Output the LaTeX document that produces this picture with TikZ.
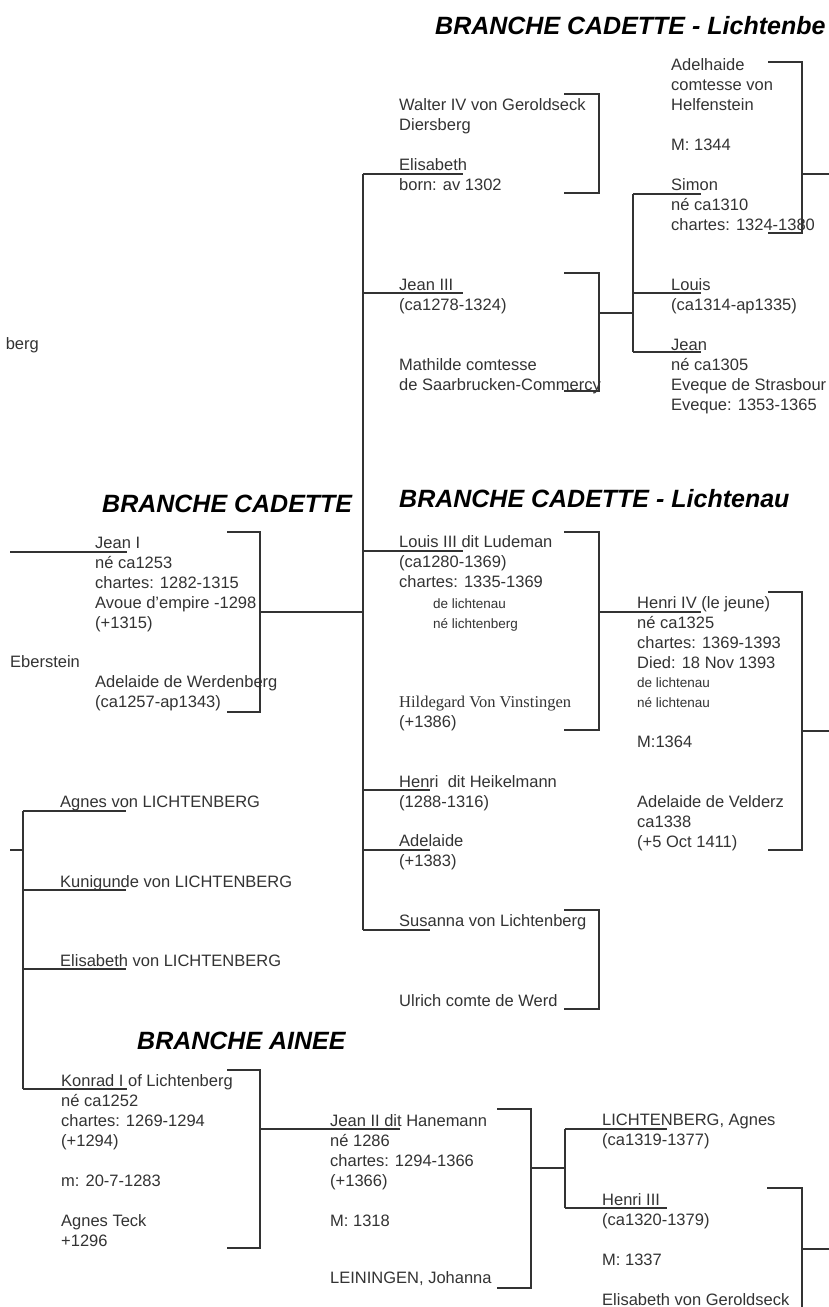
\documentclass[tikz,border=0pt]{standalone}
\usepackage{fontspec}
\setmainfont{Liberation Sans}
\newfontfamily\hildfont{Liberation Serif}
\begin{document}
\begin{tikzpicture}[x=1pt,y=-1pt,
  txt/.style={anchor=north west,inner sep=0pt,align=left,text=black!80,font=\fontsize{16.5}{20}\selectfont},
  sml/.style={txt,font=\fontsize{13.5}{20}\selectfont},
  ttl/.style={anchor=base west,inner sep=0pt,text=black,font=\fontsize{25}{30}\selectfont\bfseries\itshape},
  ln/.style={line width=1.2pt,draw=black!80}]
\clip (0,0) rectangle (829,1307);
\fill[white] (0,0) rectangle (829,1307);

% ---------------- titles
\node[ttl] (t1) at (435,34) {BRANCHE CADETTE - Lichtenbe};
\node[ttl] (t2) at (102,512) {BRANCHE CADETTE};
\node[ttl] (t3) at (399,507) {BRANCHE CADETTE - Lichtenau};
\node[ttl] (t4) at (137,1049) {BRANCHE AINEE};

% ---------------- column A texts
\node[txt] (walter) at (399,96) {\strut Walter IV von Geroldseck\\Diersberg};
\node[txt] (elis) at (399,156) {\strut Elisabeth\\born: av 1302};
\node[txt] (jean3) at (399,276) {\strut Jean III\\(ca1278-1324)};
\node[txt] (mathilde) at (399,356) {\strut Mathilde comtesse\\de Saarbrucken-Commercy};
\node[txt] (louis3) at (399,533) {\strut Louis III dit Ludeman\\(ca1280-1369)\\chartes: 1335-1369};
\node[sml] (louis3s) at (433,594) {\strut de lichtenau\\né lichtenberg};
\node[txt] (hild) at (399,693) {\strut{\hildfont Hildegard Von Vinstingen}\\(+1386)};
\node[txt] (henrih) at (399,773) {\strut Henri\ \ dit Heikelmann\\(1288-1316)};
\node[txt] (adel) at (399,832) {\strut Adelaide\\(+1383)};
\node[txt] (susanna) at (399,912) {\strut Susanna von Lichtenberg};
\node[txt] (ulrich) at (399,992) {\strut Ulrich comte de Werd};

% ---------------- column B texts
\node[txt] (adelh) at (671,56) {\strut Adelhaide\\comtesse von\\Helfenstein\\[20pt]M: 1344};
\node[txt] (simon) at (671,176) {\strut Simon\\né ca1310\\chartes: 1324-1380};
\node[txt] (louis) at (671,276) {\strut Louis\\(ca1314-ap1335)};
\node[txt] (jean) at (671,336) {\strut Jean\\né ca1305\\Eveque de Strasbour\\Eveque: 1353-1365};
\node[txt] (henri4) at (637,594) {\strut Henri IV (le jeune)\\né ca1325\\chartes: 1369-1393\\Died: 18 Nov 1393};
\node[sml] (henri4s) at (637,673) {\strut de lichtenau\\né lichtenau};
\node[txt] (henri4m) at (637,733) {\strut M:1364\\[40pt]Adelaide de Velderz\\ca1338\\(+5 Oct 1411)};

% ---------------- left column texts
\node[txt,anchor=base east] (berg) at (39,349) {berg};
\node[txt] (jean1) at (95,534) {\strut Jean I\\né ca1253\\chartes: 1282-1315\\Avoue d'empire -1298\\(+1315)};
\node[txt] (eber) at (10,653) {\strut Eberstein};
\node[txt] (adelw) at (95,673) {\strut Adelaide de Werdenberg\\(ca1257-ap1343)};
\node[txt] (agnesl) at (60,793) {\strut Agnes von LICHTENBERG};
\node[txt] (kunig) at (60,873) {\strut Kunigunde von LICHTENBERG};
\node[txt] (elisl) at (60,952) {\strut Elisabeth von LICHTENBERG};
\node[txt] (konrad) at (61,1072) {\strut Konrad I of Lichtenberg\\né ca1252\\chartes: 1269-1294\\(+1294)\\[20pt]m: 20-7-1283\\[20pt]Agnes Teck\\+1296};
\node[txt] (jean2) at (330,1112) {\strut Jean II dit Hanemann\\né 1286\\chartes: 1294-1366\\(+1366)\\[20pt]M: 1318};
\node[txt] (lein) at (330,1269) {\strut LEININGEN, Johanna};
\node[txt] (lichta) at (602,1111) {\strut LICHTENBERG, Agnes\\(ca1319-1377)};
\node[txt] (henri3) at (602,1191) {\strut Henri III\\(ca1320-1379)\\[20pt]M: 1337\\[20pt]Elisabeth von Geroldseck};

% ---------------- coordinates
% main vertical (children of Jean I)
\coordinate (vAt) at (363,174);
\coordinate (vA3) at (363,293);
\coordinate (vAl) at (363,551);
\coordinate (vAm) at (363,612);
\coordinate (vAh) at (363,790);
\coordinate (vAa) at (363,850);
\coordinate (vAb) at (363,930);
\coordinate (eE) at (463,174);
\coordinate (eJ3) at (463,293);
\coordinate (eL3) at (463,551);
\coordinate (eHH) at (430,790);
\coordinate (eAd) at (430,850);
\coordinate (eSu) at (430,930);
% Walter bracket
\coordinate (wb1) at (564,94);
\coordinate (wb2) at (599,94);
\coordinate (wb3) at (599,193);
\coordinate (wb4) at (564,193);
% Jean III bracket
\coordinate (jb1) at (564,273);
\coordinate (jb2) at (599,273);
\coordinate (jb3) at (599,391);
\coordinate (jb4) at (564,391);
\coordinate (jbm) at (599,313);
\coordinate (jcm) at (633,313);
\coordinate (jct) at (633,194);
\coordinate (jcl) at (633,293);
\coordinate (jcb) at (633,352);
\coordinate (eSi) at (701,194);
\coordinate (eLo) at (701,293);
\coordinate (eJe) at (701,352);
% Adelhaide bracket
\coordinate (ab1) at (768,62);
\coordinate (ab2) at (802,62);
\coordinate (ab3) at (802,233);
\coordinate (ab4) at (768,233);
\coordinate (abm) at (802,174);
\coordinate (abo) at (829,174);
% Louis III bracket
\coordinate (lb1) at (564,532);
\coordinate (lb2) at (599,532);
\coordinate (lb3) at (599,730);
\coordinate (lb4) at (564,730);
\coordinate (lbm) at (599,612);
\coordinate (eH4) at (701,612);
% Henri IV bracket
\coordinate (hb1) at (768,592);
\coordinate (hb2) at (802,592);
\coordinate (hb3) at (802,850);
\coordinate (hb4) at (768,850);
\coordinate (hbm) at (802,731);
\coordinate (hbo) at (829,731);
% Susanna bracket
\coordinate (sb1) at (564,910);
\coordinate (sb2) at (599,910);
\coordinate (sb3) at (599,1009);
\coordinate (sb4) at (564,1009);
% Jean I
\coordinate (j1s) at (10,552);
\coordinate (j1e) at (127,552);
\coordinate (ib1) at (227,532);
\coordinate (ib2) at (260,532);
\coordinate (ib3) at (260,712);
\coordinate (ib4) at (227,712);
\coordinate (ibm) at (260,612);
% left vertical
\coordinate (lvs) at (10,850);
\coordinate (lvm) at (23,850);
\coordinate (lvt) at (23,811);
\coordinate (lvk) at (23,890);
\coordinate (lve) at (23,969);
\coordinate (lvb) at (23,1089);
\coordinate (eAg) at (126,811);
\coordinate (eKu) at (126,890);
\coordinate (eEl) at (126,969);
\coordinate (eKo) at (127,1089);
% Konrad bracket
\coordinate (kb1) at (227,1070);
\coordinate (kb2) at (260,1070);
\coordinate (kb3) at (260,1248);
\coordinate (kb4) at (227,1248);
\coordinate (kbm) at (260,1129);
\coordinate (eJ2) at (400,1129);
% Jean II bracket
\coordinate (nb1) at (497,1109);
\coordinate (nb2) at (531,1109);
\coordinate (nb3) at (531,1288);
\coordinate (nb4) at (497,1288);
\coordinate (nbm) at (531,1168);
\coordinate (ncm) at (565,1168);
\coordinate (nct) at (565,1129);
\coordinate (ncb) at (565,1208);
\coordinate (eLA) at (667,1129);
\coordinate (eH3) at (667,1208);
% Henri III bracket
\coordinate (rb1) at (767,1188);
\coordinate (rb2) at (802,1188);
\coordinate (rb3) at (802,1310);
\coordinate (rbm) at (802,1249);
\coordinate (rbo) at (829,1249);

% ---------------- connectors
\draw[ln] (vAt) -- (vAb);
\draw[ln] (vAt) -- (eE);
\draw[ln] (vA3) -- (eJ3);
\draw[ln] (vAl) -- (eL3);
\draw[ln] (vAh) -- (eHH);
\draw[ln] (vAa) -- (eAd);
\draw[ln] (vAb) -- (eSu);
\draw[ln] (wb1) -- (wb2) -- (wb3) -- (wb4);
\draw[ln] (jb1) -- (jb2) -- (jb3) -- (jb4);
\draw[ln] (jbm) -- (jcm);
\draw[ln] (jct) -- (jcb);
\draw[ln] (jct) -- (eSi);
\draw[ln] (jcl) -- (eLo);
\draw[ln] (jcb) -- (eJe);
\draw[ln] (ab1) -- (ab2) -- (ab3) -- (ab4);
\draw[ln] (abm) -- (abo);
\draw[ln] (lb1) -- (lb2) -- (lb3) -- (lb4);
\draw[ln] (lbm) -- (eH4);
\draw[ln] (hb1) -- (hb2) -- (hb3) -- (hb4);
\draw[ln] (hbm) -- (hbo);
\draw[ln] (sb1) -- (sb2) -- (sb3) -- (sb4);
\draw[ln] (j1s) -- (j1e);
\draw[ln] (ib1) -- (ib2) -- (ib3) -- (ib4);
\draw[ln] (ibm) -- (vAm);
\draw[ln] (lvs) -- (lvm);
\draw[ln] (lvt) -- (lvb);
\draw[ln] (lvt) -- (eAg);
\draw[ln] (lvk) -- (eKu);
\draw[ln] (lve) -- (eEl);
\draw[ln] (lvb) -- (eKo);
\draw[ln] (kb1) -- (kb2) -- (kb3) -- (kb4);
\draw[ln] (kbm) -- (eJ2);
\draw[ln] (nb1) -- (nb2) -- (nb3) -- (nb4);
\draw[ln] (nbm) -- (ncm);
\draw[ln] (nct) -- (ncb);
\draw[ln] (nct) -- (eLA);
\draw[ln] (ncb) -- (eH3);
\draw[ln] (rb1) -- (rb2) -- (rb3);
\draw[ln] (rbm) -- (rbo);
\end{tikzpicture}
\end{document}
